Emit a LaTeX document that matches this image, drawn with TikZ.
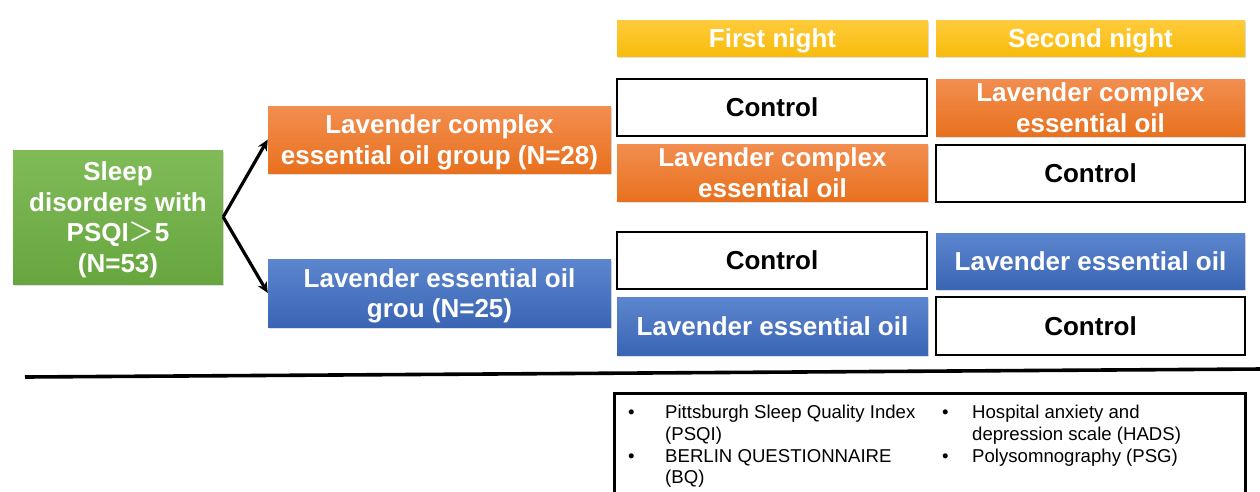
\documentclass[tikz,border=0pt]{standalone}
\usepackage{fontspec}
\setmainfont{Liberation Sans}
\newfontfamily\cjkfont{Noto Sans CJK SC}
\usetikzlibrary{arrows.meta,shadows}
\definecolor{grnT}{HTML}{80BB58}
\definecolor{grnB}{HTML}{67A63F}
\definecolor{orgT}{HTML}{F28E50}
\definecolor{orgB}{HTML}{E8711E}
\definecolor{bluT}{HTML}{5C86CE}
\definecolor{bluB}{HTML}{3A65B4}
\definecolor{ylwT}{HTML}{FFCB3C}
\definecolor{ylwB}{HTML}{F8BC0C}
\tikzset{
  base/.style={inner sep=0pt, align=center, font=\fontsize{26}{30.5}\selectfont\bfseries,
    text depth=0pt,
    drop shadow={opacity=0.25, shadow xshift=1pt, shadow yshift=-2pt}},
  greenbox/.style={base, text=white, top color=grnT, bottom color=grnB},
  orangebox/.style={base, text=white, top color=orgT, bottom color=orgB},
  bluebox/.style={base, text=white, top color=bluT, bottom color=bluB},
  yellowbox/.style={base, text=white, top color=ylwT, bottom color=ylwB, minimum height=36pt},
  ctrlbox/.style={inner sep=0pt, align=center, font=\fontsize{26}{30}\selectfont\bfseries,
    draw=black, line width=1.6pt, fill=white, text=black},
  cellA/.style={minimum width=310pt, minimum height=57pt},
  branch/.style={line width=3.2pt, -{Stealth[length=11pt,width=10pt]}},
  item/.style={anchor=west, inner sep=0pt, font=\fontsize{18.6}{21.8}\selectfont, align=left},
}
\begin{document}
\begin{tikzpicture}[x=1pt,y=-1pt]
\useasboundingbox (0,0) rectangle (1260,491);
\fill[white] (0,0) rectangle (1260,491);
% left column
\node[greenbox, minimum width=210pt, minimum height=134pt] (root) at (118,217)
  {Sleep\\disorders with\\PSQI{\cjkfont\mdseries ＞}5\\(N=53)};
\node[orangebox, minimum width=343pt, minimum height=67pt] (grpA) at (439.5,139.5)
  {Lavender complex\\essential oil group (N=28)};
\node[bluebox, minimum width=343pt, minimum height=68pt] (grpB) at (439.5,293)
  {Lavender essential oil\\grou (N=25)};
\draw[branch] (root.east) -- (grpA.west);
\draw[branch] (root.east) -- (grpB.west);
% headers
\node[yellowbox, minimum width=311pt] (h1) at (772.5,38) {First night};
\node[yellowbox, minimum width=309pt] (h2) at (1090.5,38) {Second night};
% grid
\node[ctrlbox, cellA] (r1a) at (772,107.5) {Control};
\node[orangebox, cellA, minimum width=309pt] (r1b) at (1090.5,107.5) {Lavender complex\\essential oil};
\node[orangebox, cellA, minimum width=311pt] (r2a) at (772.5,172.5) {Lavender complex\\essential oil};
\node[ctrlbox, cellA, minimum width=309pt] (r2b) at (1090.5,173.5) {Control};
\node[ctrlbox, cellA] (r3a) at (772,260.5) {Control};
\node[bluebox, cellA, minimum width=309pt, minimum height=56pt] (r3b) at (1090.5,261) {Lavender essential oil};
\node[bluebox, cellA, minimum width=311pt, minimum height=58pt] (r4a) at (772.5,326) {Lavender essential oil};
\node[ctrlbox, cellA, minimum width=309pt, minimum height=58pt] (r4b) at (1090.5,326) {Control};
% divider
\coordinate (dl) at (25,377);
\coordinate (dr) at (1262,369);
\draw[line width=3.6pt] (dl) -- (dr);
% measures box
\draw[line width=3pt] (614,393) rectangle (1245,500);
\node[item] (b1) at (628,414) {•};
\node[item] (t1) at (665,424.5) {Pittsburgh Sleep Quality Index\\(PSQI)};
\node[item] (b2) at (628,458) {•};
\node[item] (t2) at (665,468.5) {BERLIN QUESTIONNAIRE\\(BQ)};
\node[item] (b3) at (942,414) {•};
\node[item] (t3) at (972,424.5) {Hospital anxiety and\\depression scale (HADS)};
\node[item] (b4) at (942,458) {•};
\node[item] (t4) at (972,458) {Polysomnography (PSG)};
\end{tikzpicture}
\end{document}
